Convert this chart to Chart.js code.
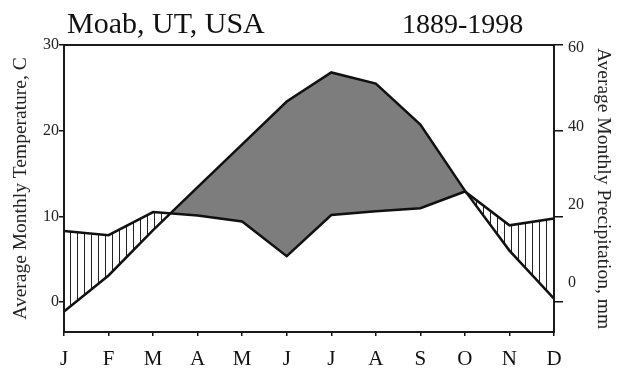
<!DOCTYPE html>
<html>
<head>
<meta charset="utf-8">
<script src="https://cdn.jsdelivr.net/npm/chart.js@4.4.1/dist/chart.umd.min.js"></script>
<style>
  html, body { margin: 0; padding: 0; background: #fff; }
  canvas { display: block; }
</style>
</head>
<body>
<canvas class="js-chart" width="619" height="373"></canvas>
<script>
const months = ['J', 'F', 'M', 'A', 'M', 'J', 'J', 'A', 'S', 'O', 'N', 'D'];
const temperature = [-1.1, 3.1, 8.4, 13.4, 18.4, 23.4, 26.8, 25.5, 20.7, 13.0, 6.0, 0.4];
const precipitation = [16.6, 15.6, 21.0, 20.2, 18.8, 10.7, 20.3, 21.2, 21.9, 25.8, 17.9, 19.5];
const tempTicks = [0, 10, 20, 30];
const precipTicks = [0, 20, 40, 60];
const titleText = 'Moab, UT, USA';
const yearsText = '1889-1998';

(function () {

  const serif = 'Liberation Serif, Times New Roman, serif';

  // vertical hatch for the wet months
  const pc = document.createElement('canvas');
  pc.width = 7;
  pc.height = 4;
  const pctx = pc.getContext('2d');
  pctx.fillStyle = '#222';
  pctx.fillRect(0, 0, 1, 4);
  const hatch = pctx.createPattern(pc, 'repeat');

  const header = {
    id: 'header',
    afterDraw(chart) {
      const ctx = chart.ctx;
      const a = chart.chartArea;
      ctx.save();
      ctx.fillStyle = '#111';
      ctx.textBaseline = 'alphabetic';
      ctx.font = '30px ' + serif;
      ctx.fillText(titleText, a.left + 3, 33);
      ctx.font = '28px ' + serif;
      ctx.fillText(yearsText, a.left + 338, 33);
      ctx.restore();
    }
  };

  const frame = {
    id: 'frame',
    afterDatasetsDraw(chart) {
      const ctx = chart.ctx;
      const a = chart.chartArea;
      ctx.save();
      ctx.strokeStyle = '#1a1a1a';
      ctx.lineWidth = 2;
      ctx.strokeRect(a.left, a.top, a.right - a.left, a.bottom - a.top);
      ctx.restore();
    }
  };

  const data = {
    labels: months,
    datasets: [
      {
        data: temperature,
        yAxisID: 'y',
        borderColor: '#111',
        borderWidth: 2.5,
        pointRadius: 0,
        tension: 0,
        fill: { target: 1, above: '#7d7d7d', below: hatch }
      },
      {
        data: precipitation,
        yAxisID: 'y2',
        borderColor: '#111',
        borderWidth: 2.5,
        pointRadius: 0,
        tension: 0,
        fill: false
      }
    ]
  };

  const config = {
    type: 'line',
    data: data,
    plugins: [header, frame],
    options: {
      responsive: false,
      animation: false,
      layout: {
        padding: { top: 45, left: 0, right: 0, bottom: 0 }
      },
      plugins: {
        legend: { display: false },
        tooltip: { enabled: false },
        filler: { drawTime: 'beforeDatasetsDraw' }
      },
      scales: {
        x: {
          offset: false,
          border: { display: false },
          grid: { drawOnChartArea: false, offset: false, tickLength: 4, color: '#111', lineWidth: 1.5 },
          ticks: { color: '#111', font: { family: serif, size: 21 }, padding: 11, maxRotation: 0, autoSkip: false },
          afterFit: s => { s.height = 41; }
        },
        y: {
          position: 'left',
          min: -3.5,
          max: 30,
          afterBuildTicks: s => { s.ticks = tempTicks.map(v => ({ value: v })); },
          border: { display: false },
          grid: { drawOnChartArea: false, tickLength: 5, color: '#111', lineWidth: 1.5 },
          ticks: { color: '#222', font: { family: serif, size: 16 }, padding: 0 },
          title: {
            display: true,
            text: 'Average Monthly Temperature, C',
            color: '#222',
            font: { family: serif, size: 19.5 },
            padding: { top: 9, bottom: 0 }
          },
          afterFit: s => { s.width = 64; }
        },
        y2: {
          position: 'right',
          weight: 0,
          min: -7,
          max: 60,
          afterBuildTicks: s => { s.ticks = precipTicks.map(v => ({ value: v })); },
          border: { display: false },
          grid: { drawOnChartArea: false, tickLength: 9, color: '#111', lineWidth: 1.5 },
          ticks: { display: false },
          afterFit: s => { s.width = 10; }
        },
        // labels of the precipitation axis sit a little off their tick marks
        y3: {
          axis: 'y',
          position: 'right',
          weight: 1,
          min: -12.5,
          max: 60.8,
          afterBuildTicks: s => { s.ticks = precipTicks.map(v => ({ value: v })); },
          border: { display: false },
          grid: { display: false, drawTicks: false },
          ticks: { color: '#222', font: { family: serif, size: 16 }, padding: 4 },
          title: {
            display: true,
            text: 'Average Monthly Precipitation, mm',
            color: '#222',
            font: { family: serif, size: 19.5 },
            padding: { top: 4, bottom: 0 }
          },
          afterFit: s => { s.width = 55; }
        }
      }
    }
  };

  new Chart(document.querySelector('.js-chart'), config);

})();
</script>
</body>
</html>
